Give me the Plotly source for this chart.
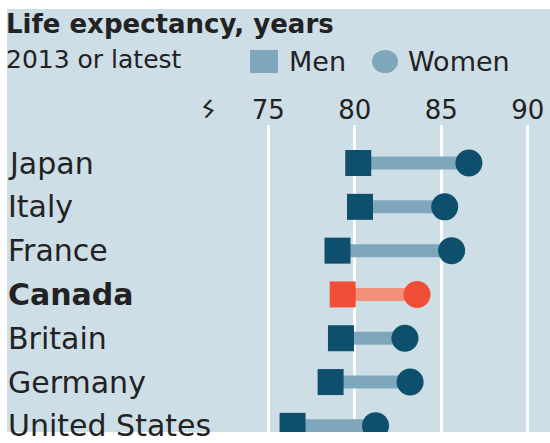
import plotly.graph_objects as go

countries = ["Japan", "Italy", "France", "Canada", "Britain", "Germany", "United States"]
men = [80.2, 80.3, 79.0, 79.3, 79.2, 78.6, 76.4]
women = [86.6, 85.2, 85.6, 83.6, 82.9, 83.2, 81.2]
highlight = "Canada"
tick_vals = [75, 80, 85, 90]
tick_text = ["75", "80", "85", "90"]

W, H = 550, 443
PT, PB = 125, 432  # plot area top / bottom in pixels

def px(x):
    return x / W

def py(y):
    return (PB - y) / (PB - PT)

DARK = "#0d4f6c"
LIGHT = "#7fa7bb"
RED = "#f04e37"
RED_LIGHT = "#f2917a"
BG = "#cedee7"
TXT = "#222222"
FONT = "DejaVu Sans"

fig = go.Figure()

# connecting bars
for name, m, w in zip(countries, men, women):
    col = RED_LIGHT if name == highlight else LIGHT
    fig.add_trace(go.Scatter(x=[m, w], y=[name, name], mode="lines",
                             line=dict(color=col, width=13), showlegend=False,
                             hoverinfo="skip"))

m_cols = [RED if c == highlight else DARK for c in countries]
fig.add_trace(go.Scatter(x=women, y=countries, mode="markers", name="Women",
                         marker=dict(symbol="circle", size=27, color=m_cols, line=dict(width=0)),
                         showlegend=False))
fig.add_trace(go.Scatter(x=men, y=countries, mode="markers", name="Men",
                         marker=dict(symbol="square", size=26, color=m_cols, line=dict(width=0)),
                         showlegend=False))

shapes = [
    dict(type="rect", xref="paper", yref="paper", x0=px(7), x1=px(550), y0=py(432), y1=py(9),
         fillcolor=BG, line=dict(width=0), layer="below"),
    # legend symbols
    dict(type="rect", xref="paper", yref="paper", x0=px(250), x1=px(278), y0=py(73), y1=py(50),
         fillcolor=LIGHT, line=dict(width=0)),
    dict(type="circle", xref="paper", yref="paper", x0=px(372), x1=px(398), y0=py(73), y1=py(50),
         fillcolor=LIGHT, line=dict(width=0)),
]

annotations = [
    dict(text="<b>Life expectancy, years</b>", xref="paper", yref="paper", x=px(4), y=py(24),
         xanchor="left", yanchor="middle", showarrow=False, font=dict(family=FONT, size=26, color=TXT)),
    dict(text="2013 or latest", xref="paper", yref="paper", x=px(4), y=py(60),
         xanchor="left", yanchor="middle", showarrow=False, font=dict(family=FONT, size=25, color=TXT)),
    dict(text="Men", xref="paper", yref="paper", x=px(287), y=py(62),
         xanchor="left", yanchor="middle", showarrow=False, font=dict(family=FONT, size=27, color=TXT)),
    dict(text="Women", xref="paper", yref="paper", x=px(406), y=py(62),
         xanchor="left", yanchor="middle", showarrow=False, font=dict(family=FONT, size=27, color=TXT)),
    dict(text="ϟ", xref="paper", yref="paper", x=px(208), y=py(110),
         xanchor="center", yanchor="middle", showarrow=False, textangle=25,
         font=dict(family=FONT, size=24, color=TXT)),
]

for name in countries:
    label = f"<b>{name}</b>" if name == highlight else name
    annotations.append(dict(text=label, xref="paper", yref="y", x=px(6), y=name,
                            xanchor="left", yanchor="middle", showarrow=False,
                            font=dict(family=FONT, size=30, color=TXT)))

fig.update_layout(
    width=W, height=H,
    margin=dict(l=0, r=0, t=PT, b=H - PB, pad=0),
    paper_bgcolor="white", plot_bgcolor="rgba(0,0,0,0)",
    shapes=shapes, annotations=annotations,
    xaxis=dict(range=[59.48, 91.29], side="top", tickvals=tick_vals, ticktext=tick_text,
               showgrid=True, gridcolor="white", gridwidth=3, zeroline=False, showline=False,
               ticks="", tickfont=dict(family=FONT, size=26, color=TXT), fixedrange=True),
    yaxis=dict(categoryorder="array", categoryarray=countries, range=[6.14, -0.868],
               showgrid=False, zeroline=False, showline=False, showticklabels=False,
               ticks="", fixedrange=True),
    showlegend=False,
)

fig.write_html("out.html", config={"displayModeBar": False},
               post_script="document.body.style.margin='0';document.body.style.overflow='hidden';")
